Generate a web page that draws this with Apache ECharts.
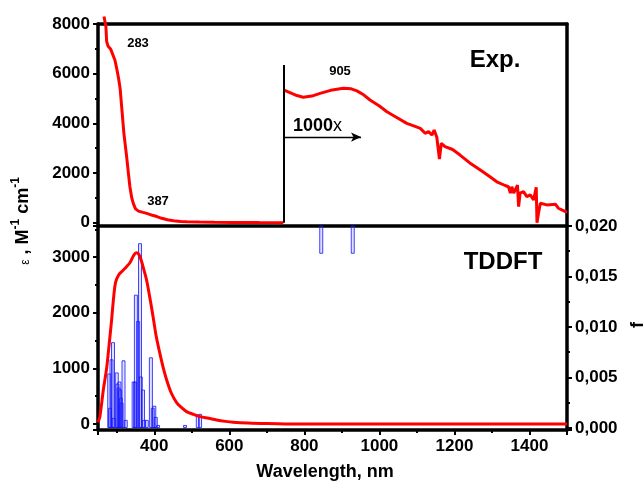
<!DOCTYPE html>
<html><head><meta charset="utf-8">
<script src="https://cdn.jsdelivr.net/npm/echarts@6/dist/echarts.min.js"></script>
<style>html,body{margin:0;padding:0;background:#fff}#c{width:644px;height:482px}</style>
</head><body><div id="c"></div>
<script>
// Experimental spectrum, UV-vis part (epsilon, M^-1 cm^-1)
const expUvWl  = [266, 271, 273, 277, 284, 289, 295, 300, 305, 309, 314, 319, 326, 331, 335, 340, 344, 350, 358, 370, 380, 395, 407, 420, 435, 451, 470, 487, 520, 560, 610, 680, 744];
const expUvEps = [8300, 7900, 7300, 7100, 6980, 6900, 6550, 6200, 5800, 5400, 4500, 3600, 2700, 2000, 1450, 1000, 780, 560, 470, 420, 380, 300, 250, 180, 120, 80, 55, 40, 28, 20, 15, 8, 5];
// Experimental spectrum, NIR part shown magnified 1000x
const expNirWl = [746, 760, 780, 797, 820, 842, 870, 904, 925, 940, 958, 975, 1000, 1020, 1045, 1073, 1095, 1109, 1122, 1131, 1140, 1146, 1153, 1160, 1165, 1175, 1195, 1215, 1240, 1269, 1290, 1313, 1335, 1344, 1349, 1353, 1358, 1368, 1371, 1375, 1384, 1393, 1402, 1411, 1418, 1420, 1424, 1429, 1446, 1469, 1477, 1496, 1500];
const expNirEps1000 = [5340, 5250, 5120, 5050, 5100, 5210, 5330, 5410, 5390, 5310, 5150, 4940, 4700, 4470, 4250, 4000, 3880, 3800, 3600, 3670, 3530, 3730, 3440, 2560, 3200, 3065, 2950, 2725, 2420, 2120, 1900, 1650, 1500, 1450, 1190, 1450, 1190, 1520, 650, 1190, 1250, 1050, 1120, 920, 1430, 0, 380, 785, 720, 750, 585, 450, 420];
// TDDFT simulated spectrum (epsilon)
const tddftWl  = [250, 255, 264, 273, 280, 286, 292, 297, 305, 315, 325, 335, 345, 352, 358, 365, 372, 380, 390, 397, 405, 415, 425, 433, 445, 460, 475, 486, 505, 522, 545, 566, 590, 610, 650, 700, 750, 1500];
const tddftEps = [30, 130, 600, 1000, 1450, 1850, 2300, 2550, 2680, 2750, 2820, 2900, 3030, 3080, 3060, 2950, 2780, 2570, 2200, 1920, 1580, 1265, 980, 790, 560, 380, 280, 220, 170, 130, 100, 70, 45, 30, 15, 5, 0, 0];
// TDDFT oscillator strengths
const stickWl = [280, 282, 286, 290, 292, 300, 302, 305, 307, 309, 311, 313, 318, 324, 345, 349, 351, 357, 362, 364, 370, 373, 380, 391, 396, 400, 404, 410, 482, 516, 522];
const stickF  = [0.0054, 0.0020, 0.0068, 0.0085, 0.0010, 0.0055, 0.0044, 0.0040, 0.0046, 0.0038, 0.0030, 0.0025, 0.0067, 0.0008, 0.0046, 0.0046, 0.0132, 0.0106, 0.0183, 0.0051, 0.0038, 0.0008, 0.0008, 0.0070, 0.0020, 0.0022, 0.0011, 0.0003, 0.0003, 0.0013, 0.0014];
// sticks seen hanging from the top of the lower panel
const upperStickWl = [845, 929];
const upperStickBase = [0.0173, 0.0173];
const upperStickLen = [0.004, 0.004];

const zip = (a, b) => a.map((v, i) => [v, b[i]]);
const FONT = "'Liberation Sans', Arial, sans-serif";
const axLine = () => ({ show: true, onZero: false, lineStyle: { color: '#000', width: 3.5 } });
const tick = () => ({ show: true, length: 5, lineStyle: { width: 2, color: '#000' } });
const minor = () => ({ show: true, splitNumber: 2, length: 3, lineStyle: { width: 2, color: '#000' } });
const lbl = (extra) => Object.assign({ color: '#000', fontFamily: FONT, fontWeight: 'bold', fontSize: 17, margin: 8, formatter: v => String(v) }, extra || {});
const barStyle = { color: 'rgba(90,90,255,0.18)', borderColor: 'rgba(20,20,255,0.8)', borderWidth: 1 };
const hidden = { show: false };

const chart = echarts.init(document.getElementById('c'), null, { renderer: 'canvas' });
chart.setOption({
  animation: false,
  backgroundColor: '#fff',
  grid: [
    { left: 98, top: 24, width: 469, height: 202 },
    { left: 98, top: 226, width: 469, height: 204 }
  ],
  xAxis: [
    { gridIndex: 0, type: 'value', min: 250, max: 1500, position: 'bottom', axisLine: axLine(), axisTick: hidden, axisLabel: hidden, splitLine: hidden },
    { gridIndex: 0, type: 'value', min: 250, max: 1500, position: 'top', axisLine: axLine(), axisTick: hidden, axisLabel: hidden, splitLine: hidden },
    { gridIndex: 1, type: 'value', min: 250, max: 1500, position: 'bottom', splitNumber: 6,
      axisLine: axLine(), axisTick: tick(), minorTick: minor(),
      axisLabel: lbl({ showMinLabel: false, showMaxLabel: false }), splitLine: hidden }
  ],
  yAxis: [
    { gridIndex: 0, type: 'value', min: -130, max: 8000, splitNumber: 4, position: 'left',
      axisLine: axLine(), axisTick: tick(), minorTick: minor(),
      axisLabel: lbl({ showMinLabel: false }), splitLine: hidden },
    { gridIndex: 0, type: 'value', min: -130, max: 8000, position: 'right', axisLine: axLine(), axisTick: hidden, axisLabel: hidden, splitLine: hidden },
    { gridIndex: 1, type: 'value', min: -110, max: 3560, splitNumber: 4, position: 'left',
      axisLine: axLine(), axisTick: tick(), minorTick: minor(),
      axisLabel: lbl({ showMinLabel: false, showMaxLabel: false }), splitLine: hidden },
    { gridIndex: 1, type: 'value', min: -0.0002, max: 0.02, splitNumber: 4, position: 'right',
      axisLine: axLine(), axisTick: tick(), minorTick: minor(),
      axisLabel: lbl({ showMinLabel: false, formatter: v => v.toFixed(3).replace('.', ',') }), splitLine: hidden }
  ],
  series: [
    { type: 'line', xAxisIndex: 0, yAxisIndex: 0, data: zip(expUvWl, expUvEps), showSymbol: false, clip: false,
      lineStyle: { color: '#ff0000', width: 3 }, z: 3 },
    { type: 'line', xAxisIndex: 0, yAxisIndex: 0, data: zip(expNirWl, expNirEps1000), showSymbol: false,
      lineStyle: { color: '#ff0000', width: 3 }, z: 3,
      markLine: { silent: true, animation: false, label: { show: false },
        data: [
          [{ coord: [744, 0], symbol: 'none', lineStyle: { color: '#000', width: 2, type: 'solid' } }, { coord: [744, 6350], symbol: 'none' }],
          [{ coord: [746, 3450], symbol: 'none', lineStyle: { color: '#000', width: 1.3, type: 'solid' } }, { coord: [951, 3450], symbol: 'arrow', symbolSize: [7, 10] }]
        ] } },
    { type: 'bar', xAxisIndex: 2, yAxisIndex: 3, data: zip(stickWl, stickF), barWidth: 4, barGap: '-100%', itemStyle: barStyle, z: 2 },
    { type: 'custom', xAxisIndex: 2, yAxisIndex: 3, z: 2,
      data: upperStickWl.map((w, i) => [w, upperStickBase[i], upperStickBase[i] + upperStickLen[i]]),
      encode: { x: 0, y: [1, 2] },
      renderItem: (params, api) => {
        const p0 = api.coord([api.value(0), api.value(1)]);
        const p1 = api.coord([api.value(0), api.value(2)]);
        const cs = params.coordSys;
        const r = echarts.graphic.clipRectByRect(
          { x: p0[0] - 1.5, y: p1[1], width: 3, height: p0[1] - p1[1] },
          { x: cs.x, y: cs.y, width: cs.width, height: cs.height });
        return r && { type: 'rect', shape: r, style: { fill: barStyle.color, stroke: barStyle.borderColor, lineWidth: 1 } };
      } },
    { type: 'line', xAxisIndex: 2, yAxisIndex: 2, data: zip(tddftWl, tddftEps), showSymbol: false, smooth: 0.3,
      lineStyle: { color: '#ff0000', width: 3 }, z: 4 }
  ],
  graphic: [
    { type: 'text', x: 138, y: 43, style: { text: '283', fontFamily: FONT, fontWeight: 'bold', fontSize: 13, fill: '#000', align: 'center', verticalAlign: 'middle' } },
    { type: 'text', x: 158, y: 201, style: { text: '387', fontFamily: FONT, fontWeight: 'bold', fontSize: 13, fill: '#000', align: 'center', verticalAlign: 'middle' } },
    { type: 'text', x: 340, y: 71, style: { text: '905', fontFamily: FONT, fontWeight: 'bold', fontSize: 13, fill: '#000', align: 'center', verticalAlign: 'middle' } },
    { type: 'text', x: 293, y: 126, style: { text: '{b|1000}{n|x}', rich: { b: { fontFamily: FONT, fontWeight: 'bold', fontSize: 18, fill: '#000' }, n: { fontFamily: FONT, fontSize: 18, fill: '#000' } }, align: 'left', verticalAlign: 'middle' } },
    { type: 'text', x: 495, y: 60, style: { text: 'Exp.', fontFamily: FONT, fontWeight: 'bold', fontSize: 24, fill: '#000', align: 'center', verticalAlign: 'middle' } },
    { type: 'text', x: 503, y: 262, style: { text: 'TDDFT', fontFamily: FONT, fontWeight: 'bold', fontSize: 24, fill: '#000', align: 'center', verticalAlign: 'middle' } },
    { type: 'text', x: 325, y: 472, style: { text: 'Wavelength, nm', fontFamily: FONT, fontWeight: 'bold', fontSize: 18, fill: '#000', align: 'center', verticalAlign: 'middle' } },
    { type: 'text', x: 21, y: 221, rotation: Math.PI / 2, style: {
        text: '{e|ε}{b| , M}{s|-1}{b| cm}{s|-1}', align: 'center', verticalAlign: 'middle',
        rich: {
          e: { fontFamily: FONT, fontSize: 12, fill: '#000', lineHeight: 22, verticalAlign: 'bottom' },
          b: { fontFamily: FONT, fontWeight: 'bold', fontSize: 18, fill: '#000', lineHeight: 22, verticalAlign: 'bottom' },
          s: { fontFamily: FONT, fontWeight: 'bold', fontSize: 12, fill: '#000', lineHeight: 12, verticalAlign: 'top' }
        } } },
    { type: 'text', x: 638, y: 325, rotation: Math.PI / 2, style: { text: 'f', fontFamily: FONT, fontWeight: 'bold', fontSize: 18, fill: '#000', align: 'center', verticalAlign: 'middle' } }
  ]
});
</script>
</body></html>
